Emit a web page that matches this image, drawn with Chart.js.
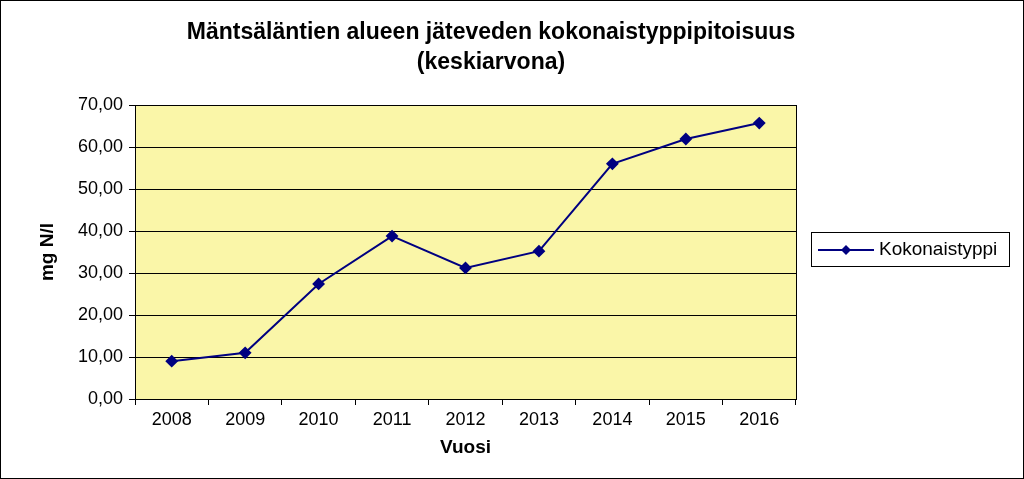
<!DOCTYPE html>
<html><head><meta charset="utf-8">
<script src="https://cdn.jsdelivr.net/npm/chart.js@4"></script>
<style>body{margin:0;background:#fff}#wrap{width:1024px;height:479px}</style>
</head><body><div id="wrap"><canvas id="c"></canvas></div>
<script>
const years = ['2008','2009','2010','2011','2012','2013','2014','2015','2016'];
const kokonaistyppi = [9.0, 11.0, 27.4, 38.8, 31.2, 35.2, 56.0, 61.9, 65.7];
const titleLines = ['Mäntsäläntien alueen jäteveden kokonaistyppipitoisuus', '(keskiarvona)'];
const seriesName = 'Kokonaistyppi';

const deco = {
  id: 'deco',
  beforeDraw(chart) {
    const {ctx, chartArea: a} = chart;
    ctx.save();
    ctx.fillStyle = '#FAF6A8';
    ctx.fillRect(a.left, a.top, a.right - a.left, a.bottom - a.top);
    ctx.restore();
  },
  afterDraw(chart) {
    const {ctx, chartArea: a} = chart;
    ctx.save();
    ctx.strokeStyle = '#000'; ctx.lineWidth = 1;
    ctx.strokeRect(a.left + 0.5, a.top + 0.5, a.right - a.left, a.bottom - a.top);
    ctx.strokeRect(0.5, 0.5, 1023, 478);
    ctx.fillStyle = '#000';
    ctx.font = 'bold 23px Arial, "Liberation Sans"';
    ctx.textAlign = 'center'; ctx.textBaseline = 'middle';
    ctx.fillText(titleLines[0], 491, 33);
    ctx.fillText(titleLines[1], 491, 63);
    // legend
    ctx.strokeRect(811.5, 232.5, 198, 34);
    ctx.strokeStyle = '#000080'; ctx.lineWidth = 2;
    ctx.beginPath(); ctx.moveTo(818, 250); ctx.lineTo(874, 250); ctx.stroke();
    ctx.fillStyle = '#000080';
    ctx.beginPath(); ctx.moveTo(846, 245); ctx.lineTo(851, 250); ctx.lineTo(846, 255); ctx.lineTo(841, 250); ctx.closePath(); ctx.fill();
    ctx.fillStyle = '#000'; ctx.font = '19px Arial, "Liberation Sans"'; ctx.textAlign = 'left';
    ctx.fillText(seriesName, 879, 250);
    ctx.restore();
  }
};

new Chart(document.getElementById('c'), {
  type: 'line',
  data: {
    labels: years,
    datasets: [{
      label: seriesName,
      data: kokonaistyppi,
      borderColor: '#000080',
      backgroundColor: '#000080',
      borderWidth: 2,
      pointStyle: 'rectRot',
      pointRadius: 5,
      tension: 0
    }]
  },
  options: {
    responsive: true,
    maintainAspectRatio: false,
    animation: false,
    layout: {padding: {top: 105, right: 228, left: 36, bottom: 0}},
    plugins: {legend: {display: false}, title: {display: false}, tooltip: {enabled: false}},
    scales: {
      x: {
        offset: true,
        grid: {offset: true, drawOnChartArea: false, color: '#000', tickLength: 6},
        border: {color: '#000'},
        ticks: {color: '#000', font: {size: 18, family: 'Arial'}, padding: 4},
        title: {display: true, text: 'Vuosi', color: '#000', font: {size: 19, weight: 'bold', family: 'Arial'}, padding: {top: 0, bottom: 20}},
        afterFit(s) { s.height = 80; }
      },
      y: {
        min: 0, max: 70,
        ticks: {stepSize: 10, color: '#000', font: {size: 18, family: 'Arial'}, padding: 6,
          callback: v => v.toFixed(2).replace('.', ',')},
        grid: {color: '#000', tickLength: 6},
        border: {color: '#000'},
        title: {display: true, text: 'mg N/l', color: '#000', font: {size: 19, weight: 'bold', family: 'Arial'}, padding: 0},
        afterFit(s) { s.width = 99; }
      }
    }
  },
  plugins: [deco]
});
</script></body></html>
